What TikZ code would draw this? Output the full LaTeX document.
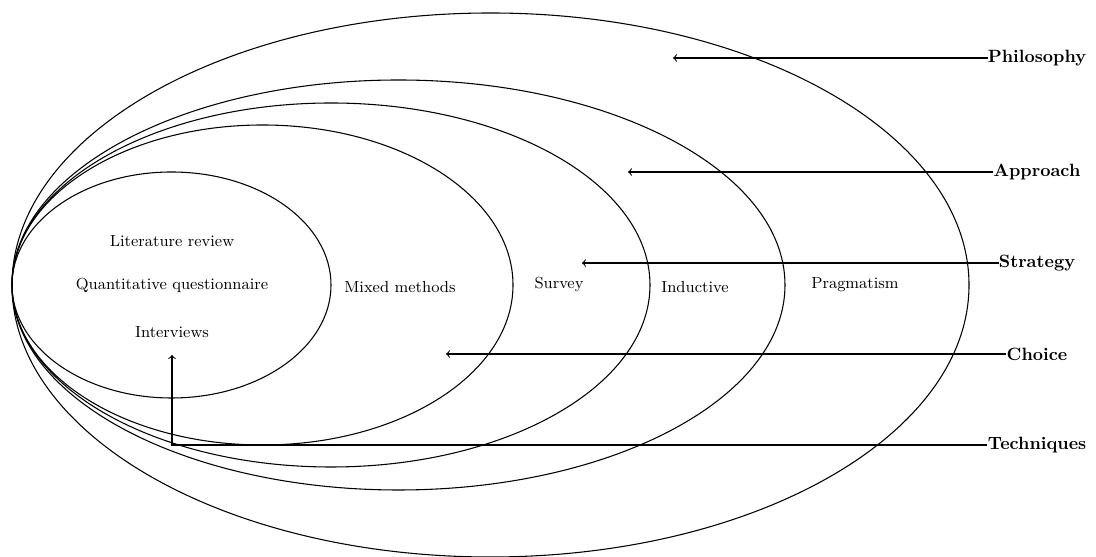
\documentclass[tikz,border=0pt]{standalone}
\usetikzlibrary{arrows}
\begin{document}
\begin{tikzpicture}[x=0.5618pt,y=0.5618pt,
  ring/.style={draw=black,line width=0.6pt},
  layer/.style={font=\bfseries,inner sep=0pt,anchor=center},
  item/.style={font=\small,inner sep=1pt},
  pointer/.style={draw=black,line width=0.6pt,->}]
\useasboundingbox (0,0) rectangle (1096,557);

% nested ellipses, all touching at the left
\draw[ring] (490.5,272) ellipse [x radius=478.5, y radius=272];
\draw[ring] (398.5,272) ellipse [x radius=386.5, y radius=205];
\draw[ring] (331,272) ellipse [x radius=319, y radius=182];
\draw[ring] (262.5,272) ellipse [x radius=250.5, y radius=160];
\draw[ring] (171.5,272) ellipse [x radius=159.5, y radius=113];

% contents of each ring
\node[item] (lit) at (172,316) {Literature review};
\node[item] (quant) at (172,272) {Quantitative questionnaire};
\node[item] (int) at (172,225) {Interviews};
\node[item] (mixed) at (400,270) {Mixed methods};
\node[item] (survey) at (559,272) {Survey};
\node[item] (induct) at (695,270) {Inductive};
\node[item] (prag) at (855,272) {Pragmatism};

% layer labels
\node[layer] (phil) at (1037,499) {Philosophy};
\node[layer] (appr) at (1037,385) {Approach};
\node[layer] (strat) at (1037,294) {Strategy};
\node[layer] (choice) at (1037,203) {Choice};
\node[layer] (tech) at (1037,112) {Techniques};

% pointer ends
\coordinate (pPhil) at (673,499);
\coordinate (pAppr) at (628,385);
\coordinate (pStrat) at (582,294);
\coordinate (pChoice) at (446,203);
\coordinate (tBend) at (172,112);
\coordinate (pTech) at (172,202);

\draw[pointer] (phil.west) -- (pPhil);
\draw[pointer] (appr.west) -- (pAppr);
\draw[pointer] (strat.west) -- (pStrat);
\draw[pointer] (choice.west) -- (pChoice);
\draw[pointer] (tech.west) -- (tBend) -- (pTech);
\end{tikzpicture}
\end{document}
